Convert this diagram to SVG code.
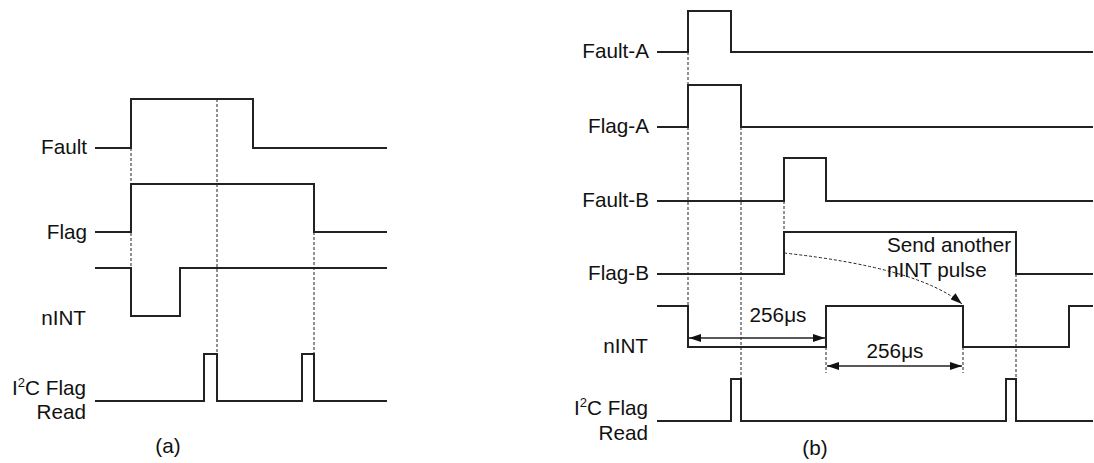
<svg xmlns="http://www.w3.org/2000/svg" width="1094" height="463" viewBox="0 0 1094 463">
<style>
text{font-family:"Liberation Sans",Arial,sans-serif;font-size:20.7px;fill:#111}
.lbl{text-anchor:end}
.w{fill:none;stroke:#222;stroke-width:2}
.d{fill:none;stroke:#222;stroke-width:1;stroke-dasharray:3,2}
.dim{fill:none;stroke:#222;stroke-width:1.5}
</style>
<defs>
<marker id="ah" viewBox="0 0 12 8" refX="12" refY="4" markerWidth="12" markerHeight="8" markerUnits="userSpaceOnUse" orient="auto-start-reverse"><path d="M0,0L12,4L0,8z" fill="#111"/></marker>
</defs>
<rect width="1094" height="463" fill="#fff"/>
<g id="connectors">
<path class="d" d="M131,148V268M217,99V354M314,232V354"/>
<path class="d" d="M688,52V306M741,127V379M784,201V232M1016,274V379M826,347V373M963,347V373"/>
<path class="d" d="M784,253Q920,268 962,304" marker-end="url(#ah)"/>
<path class="dim" d="M689,338H825" marker-start="url(#ah)" marker-end="url(#ah)"/>
<path class="dim" d="M827,366H962" marker-start="url(#ah)" marker-end="url(#ah)"/>
</g>
<g id="a-fault"><text class="lbl" x="87" y="154">Fault</text><path class="w" d="M95,148H131V99H253V148H387"/></g>
<g id="a-flag"><text class="lbl" x="87" y="239">Flag</text><path class="w" d="M95,232H131V184H314V232H387"/></g>
<g id="a-nint"><text class="lbl" x="86" y="325">nINT</text><path class="w" d="M95,268H131V316H180V268H387"/></g>
<g id="a-i2c"><text class="lbl" x="86" y="395">I<tspan font-size="13" dy="-8">2</tspan><tspan dy="8">C Flag</tspan></text><text class="lbl" x="86" y="419">Read</text><path class="w" d="M95,401H204V354H217V401H302V354H314V401H387"/></g>
<g id="a-caption"><text x="168" y="453" text-anchor="middle">(a)</text></g>
<g id="b-faulta"><text class="lbl" x="649" y="58">Fault-A</text><path class="w" d="M657,52H688V11H731V52H1093"/></g>
<g id="b-flaga"><text class="lbl" x="649" y="133">Flag-A</text><path class="w" d="M657,127H688V85H741V127H1093"/></g>
<g id="b-faultb"><text class="lbl" x="649" y="207">Fault-B</text><path class="w" d="M657,201H784V158H826V201H1093"/></g>
<g id="b-flagb"><text class="lbl" x="649" y="280">Flag-B</text><path class="w" d="M657,274H784V232H1016V274H1093"/></g>
<g id="b-note"><text x="887" y="252">Send another</text><text x="887" y="277">nINT pulse</text></g>
<g id="b-nint"><text class="lbl" x="648" y="353">nINT</text><path class="w" d="M657,306H688V347H826V306H963V347H1069V306H1093"/></g>
<g id="b-dim1"><text x="778" y="322" text-anchor="middle">256μs</text></g>
<g id="b-dim2"><text x="895" y="358" text-anchor="middle">256μs</text></g>
<g id="b-i2c"><text class="lbl" x="648" y="415">I<tspan font-size="13" dy="-8">2</tspan><tspan dy="8">C Flag</tspan></text><text class="lbl" x="648" y="440">Read</text><path class="w" d="M657,421H731V379H741V421H1006V379H1016V421H1093"/></g>
<g id="b-caption"><text x="815" y="455" text-anchor="middle">(b)</text></g>
</svg>
